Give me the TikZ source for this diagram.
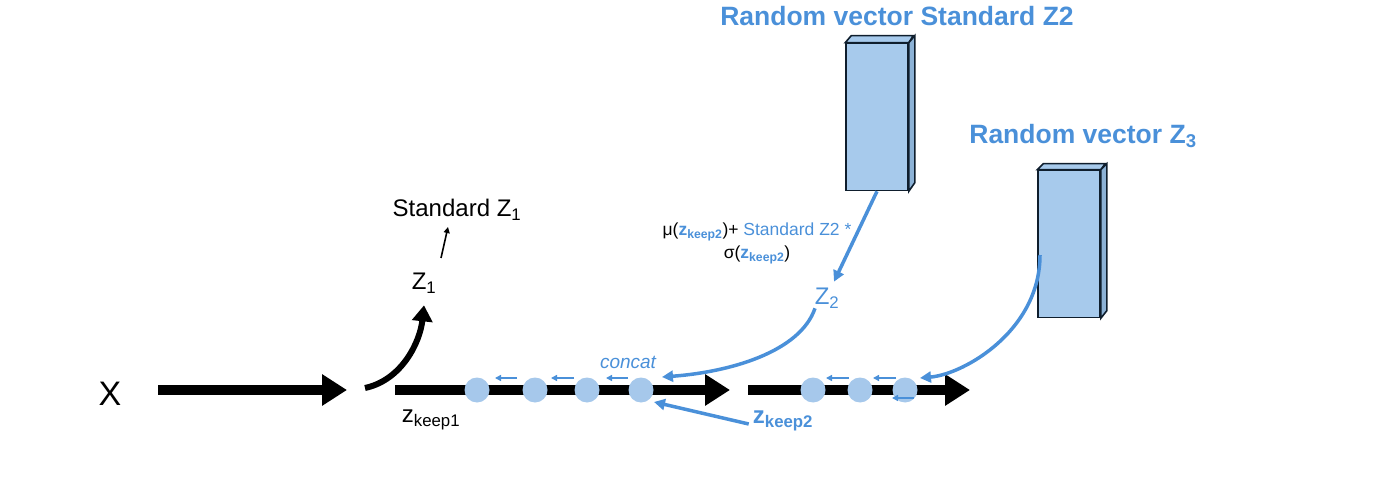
\documentclass[tikz,border=0pt]{standalone}
\usepackage{fontspec}
\setmainfont{Liberation Sans}
\usetikzlibrary{positioning,arrows.meta}
\definecolor{zblue}{RGB}{74,144,217}
\definecolor{zfill}{RGB}{167,202,236}
\definecolor{zside}{RGB}{140,178,214}
\definecolor{zdot}{RGB}{166,200,235}
\definecolor{zedge}{RGB}{15,30,45}

\begin{document}
\begin{tikzpicture}[x=1pt,y=-1pt,
  lbl/.style={inner sep=0pt,font=\fontsize{24}{28}\selectfont},
  small/.style={inner sep=0pt,font=\fontsize{17.5}{22}\selectfont},
  head/.style={inner sep=0pt,text=zblue,font=\bfseries\fontsize{26.5}{30}\selectfont},
  flow/.style={line width=10pt,-{Triangle[length=25pt,width=30pt]}},
  dot/.style={circle,fill=zdot,minimum size=25pt,inner sep=0pt},
  back/.style={zblue,line width=2.5pt,-{Triangle[length=6pt,width=6pt]}},
  feed/.style={zblue,line width=3.5pt,-{Triangle[length=11pt,width=11pt]}},
  vec/.style={draw=zedge,line width=1.6pt,fill=zfill,minimum width=62pt,minimum height=147pt,inner sep=0pt}]
\useasboundingbox (0,0) rectangle (1400,489);

% input
\node[inner sep=0pt,font=\fontsize{34}{38}\selectfont] (x) at (110,394) {X};
\coordinate (xa) at (158,390);
\coordinate (xb) at (347,390);
\draw[flow] (xa) -- (xb);

% Z1 branch
\coordinate (z1s) at (365,388);
\node[lbl] (z1) at (424,283) {Z\textsubscript{1}};
\node[lbl] (stdz1) at (457,210) {Standard Z\textsubscript{1}};
\draw[line width=6pt,-{Triangle[length=16pt,width=20pt]}] (z1s) .. controls (402,380) and (420,342) .. ([yshift=-12pt]z1.south);
\draw[line width=1.6pt,-{Triangle[length=6pt,width=6pt]}] (441,258) -- (448,227);

% first segment
\coordinate (la) at (395,390);
\coordinate (lb) at (730,390);
\draw[flow] (la) -- (lb);
\node[lbl] (zk1) at (431,420) {z\textsubscript{keep1}};
\node[dot] (c1) at (477,390) {};
\node[dot] (c2) at (535,390) {};
\node[dot] (c3) at (587,390) {};
\node[dot] (c4) at (641,390) {};
\draw[back] (517,378) -- (495,378);
\draw[back] (574,378) -- (551,378);
\draw[back] (628,378) -- (606,378);
\node[small,text=zblue,font=\itshape\fontsize{19}{22}\selectfont] (cc) at (628,362) {concat};

% second segment
\coordinate (ma) at (748,390);
\coordinate (mb) at (970,390);
\draw[flow] (ma) -- (mb);
\node[dot] (d1) at (813,390) {};
\node[dot] (d2) at (860,390) {};
\node[dot] (d3) at (905,390) {};
\draw[back] (849,378) -- (826,378);
\draw[back] (896,378) -- (873,378);
\draw[back] (914,398) -- (892,398);

% Z2 branch
\node[head] (h2) at (897,16) {Random vector Standard Z2};
\node[vec] (v2) at (877,117) {};
\draw[zedge,line width=1.6pt,fill=zfill] (v2.north west) -- ++(6,-7) -- ++(62,0) -- (v2.north east) -- cycle;
\draw[zedge,line width=1.6pt,fill=zside] (v2.north east) -- ++(6,-7) -- ++(0,147) -- (v2.south east) -- cycle;
\node[lbl,text=zblue] (z2) at (827,298) {Z\textsubscript{2}};
\draw[feed] (v2.south) -- ([xshift=7pt,yshift=6pt]z2.north);
\node[small,align=center] (f2) at (757,243) {μ(\textcolor{zblue}{\textbf{z\textsubscript{keep2}}})+ \textcolor{zblue}{Standard Z2 *}\\[1pt] σ(\textcolor{zblue}{\textbf{z\textsubscript{keep2}}})};
\draw[feed] ([xshift=-12pt]z2.south) .. controls (800,352) and (730,372) .. ([xshift=12pt,yshift=4pt]c4.north east);

\node[lbl,text=zblue,font=\bfseries\fontsize{24}{28}\selectfont] (zk2) at (783,421) {z\textsubscript{keep2}};
\draw[feed] ([xshift=-4pt,yshift=-3pt]zk2.west) -- ([xshift=4pt,yshift=-3pt]c4.south east);

% Z3 branch
\node[head] (h3) at (1083,136) {Random vector Z\textsubscript{3}};
\node[vec] (v3) at (1069,244) {};
\draw[zedge,line width=1.6pt,fill=zfill] (v3.north west) -- ++(6,-6) -- ++(62,0) -- (v3.north east) -- cycle;
\draw[zedge,line width=1.6pt,fill=zside] (v3.north east) -- ++(6,-6) -- ++(0,147) -- (v3.south east) -- cycle;
\coordinate (v3a) at (1040,255);
\draw[feed] (v3a) .. controls (1040,330) and (965,374) .. ([xshift=6pt,yshift=3pt]d3.north east);
\end{tikzpicture}
\end{document}
